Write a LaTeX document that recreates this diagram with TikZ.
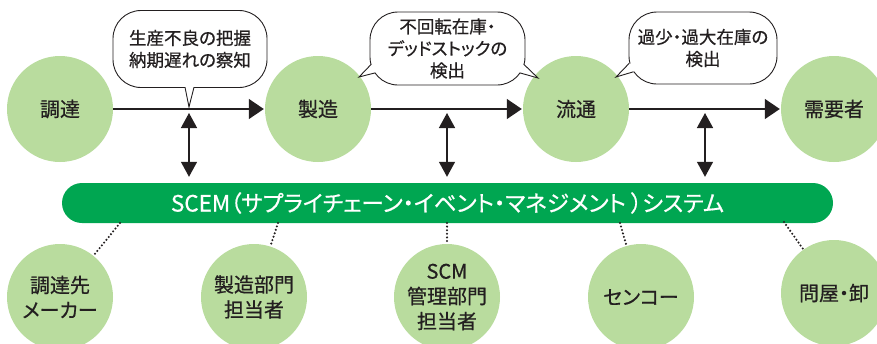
\documentclass[tikz,border=0pt]{standalone}
\usepackage{fontspec}
\setmainfont{Noto Sans CJK JP}[FakeBold=0.6, RawFeature=+palt]
\usetikzlibrary{arrows.meta,calc}
\definecolor{cgreen}{HTML}{B9DC9E}
\definecolor{bgreen}{HTML}{00A651}
\definecolor{ink}{HTML}{231F20}
\newcommand{\bubtail}[4]{\fill[white] #1 -- #2 -- #3 -- #4 -- cycle; \draw[tail] #1 -- #2 -- #3;}
\begin{document}
\begin{tikzpicture}[x=1pt,y=-1pt,
  circ/.style={circle, fill=cgreen, minimum size=106pt, inner sep=0pt, text=ink,
    font=\fontsize{20}{25}\selectfont, align=center},
  bubble/.style={draw=ink, fill=white, line width=0.9pt, rounded corners=28pt, text=ink,
    font=\fontsize{17.5}{22}\selectfont, align=center, inner sep=0pt},
  flow/.style={line width=1.4pt, draw=ink, shorten >=1pt, -{Triangle[length=15pt,width=20pt]}},
  link/.style={line width=1.4pt, draw=ink, shorten >=6pt,
    {Triangle[length=15pt,width=16pt]}-{Triangle[length=15pt,width=16pt]}},
  dotline/.style={line width=2.3pt, draw=ink, dash pattern=on 0pt off 3.6pt, line cap=round},
  tail/.style={draw=ink, line width=0.9pt, line join=miter}]
\useasboundingbox (0,0) rectangle (877,343);
\clip (0,0) rectangle (877,343);

% top flow circles
\node[circ] (c1) at (60,109) {調達};
\node[circ] (c2) at (318,109) {製造};
\node[circ] (c3) at (576,109) {流通};
\node[circ] (c4) at (834,109) {需要者};

\draw[flow] (c1) -- (c2);
\draw[flow] (c2) -- (c3);
\draw[flow] (c3) -- (c4);

% SCEM bar
\node[fill=bgreen, rounded corners=20pt, minimum width=771pt, minimum height=40pt,
  inner sep=0pt, text=white, font=\fontsize{22.5}{24}\selectfont] (bar) at (447.5,203)
  {SCEM（サプライチェーン・イベント・マネジメント ）システム};

% double arrows
\coordinate (a1) at (189,113);
\coordinate (a2) at (447,113);
\coordinate (a3) at (705,113);
\draw[link] (a1) -- (a1 |- bar.north);
\draw[link] (a2) -- (a2 |- bar.north);
\draw[link] (a3) -- (a3 |- bar.north);

% bubbles
\node[bubble, minimum width=154pt, minimum height=77pt] (b1) at (190,49)
  {生産不良の把握\\納期遅れの察知};
\node[bubble, minimum width=155pt, minimum height=73pt] (b2) at (447.5,48.5)
  {不回転在庫・\\デッドストックの\\検出};
\node[bubble, minimum width=148pt, minimum height=72pt] (b3) at (703,48)
  {過少・過大在庫の\\検出};

\coordinate (t1) at (189,107);
\coordinate (t2) at (359,77);
\coordinate (t3) at (538,78);
\coordinate (t4) at (616,77);
\bubtail{(185,87.2)}{(t1)}{(194,87.2)}{(189.5,80)}
\bubtail{(371.3,64.2)}{(t2)}{(375.4,72.8)}{(380,66)}
\bubtail{(523.7,64.2)}{(t3)}{(519.6,72.8)}{(515,66)}
\bubtail{(629.3,63.2)}{(t4)}{(633.4,71.8)}{(638,65)}

% bottom circles
\node[circ] (m1) at (60,297) {調達先\\メーカー};
\node[circ] (m2) at (254,297) {製造部門\\担当者};
\node[circ] (m3) at (447,297) {SCM\\管理部門\\担当者};
\node[circ] (m4) at (641,297) {センコー};
\node[circ] (m5) at (834,293) {問屋・卸};

\coordinate (s1) at (120,223);
\coordinate (s2) at (278,223);
\coordinate (s3) at (447,223);
\coordinate (s4) at (620,223);
\coordinate (s5) at (784,222);
\draw[dotline] (s1) -- (m1);
\draw[dotline] (s2) -- (m2);
\draw[dotline] (s3) -- (m3);
\draw[dotline] (s4) -- (m4);
\draw[dotline] (s5) -- (m5);
\end{tikzpicture}
\end{document}
